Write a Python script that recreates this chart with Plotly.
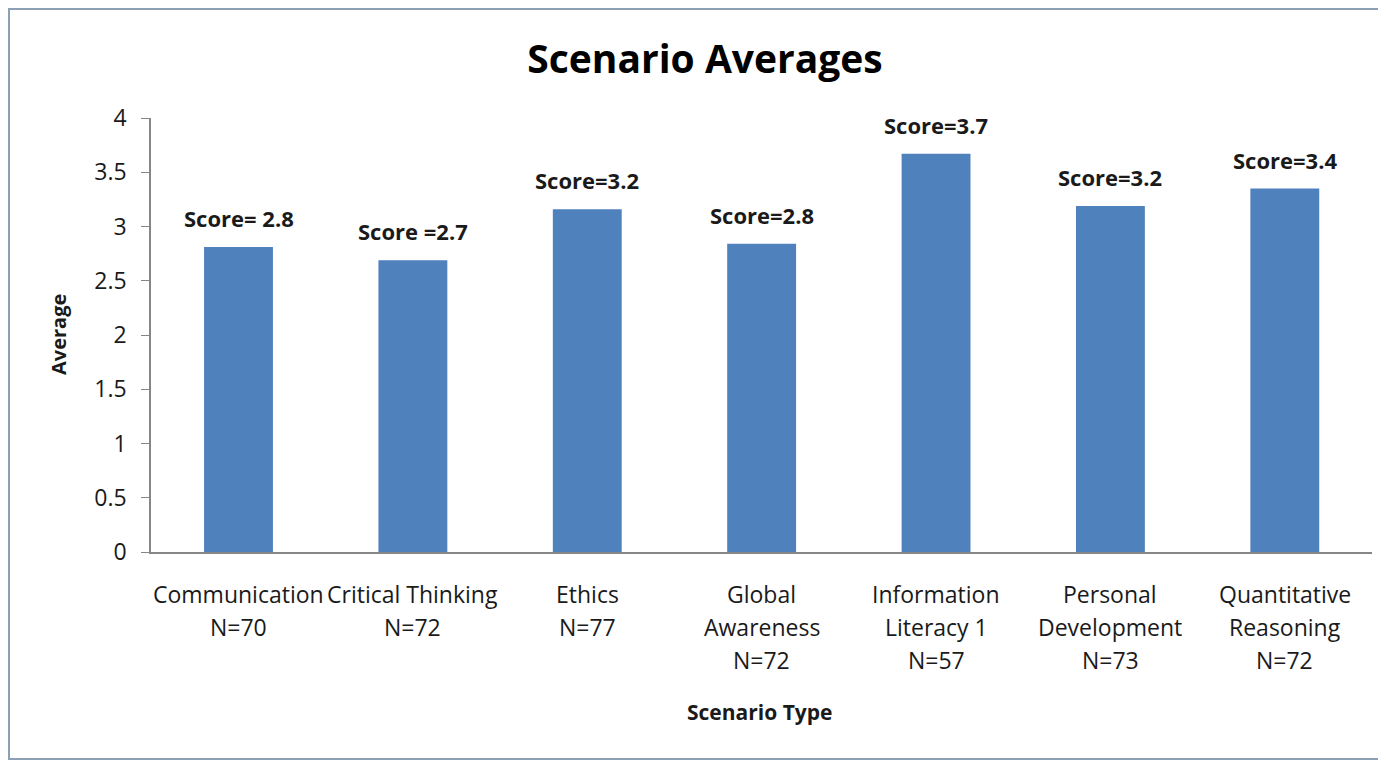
import plotly.graph_objects as go

categories = ["Communication", "Critical Thinking", "Ethics", "Global Awareness",
              "Information Literacy 1", "Personal Development", "Quantitative Reasoning"]
label_lines = [["Communication", "N=70"], ["Critical Thinking", "N=72"], ["Ethics", "N=77"],
               ["Global", "Awareness", "N=72"], ["Information", "Literacy 1", "N=57"],
               ["Personal", "Development", "N=73"], ["Quantitative", "Reasoning", "N=72"]]
values = [2.81, 2.69, 3.16, 2.84, 3.67, 3.19, 3.35]
score_labels = ["Score= 2.8", "Score =2.7", "Score=3.2", "Score=2.8", "Score=3.7", "Score=3.2", "Score=3.4"]
y_ticks = [0, 0.5, 1, 1.5, 2, 2.5, 3, 3.5, 4]
y_tick_text = ["0", "0.5", "1", "1.5", "2", "2.5", "3", "3.5", "4"]

FONT = "'Open Sans', Lato, sans-serif"
TXT = "#1a1a1a"

# figure is drawn inside an 8px body margin; coordinates below are relative to the figure
W, H = 1378, 755
L, R, T, B = 143, 14, 110, 211
PW, PH = W - L - R, H - T - B


def px_to_paper_x(px):
    return (px - L) / PW


def px_to_paper_y(py):
    return (H - B - py) / PH


fig = go.Figure(go.Bar(x=categories, y=values, marker_color="#4F81BD",
                       marker_line_width=0, hoverinfo="skip"))

annotations = []
for c, v, s in zip(categories, values, score_labels):
    annotations.append(dict(x=c, y=v, xref="x", yref="y", text=s, showarrow=False,
                            yanchor="bottom", yshift=12,
                            font=dict(family=FONT, size=22, color=TXT, weight="bold")))
for c, lines in zip(categories, label_lines):
    for i, ln in enumerate(lines):
        annotations.append(dict(x=c, y=0, xref="x", yref="y", text=ln, showarrow=False,
                                yanchor="middle", yshift=-(42 + 33 * i),
                                font=dict(family=FONT, size=23, color=TXT)))
annotations.append(dict(x=px_to_paper_x(751), y=px_to_paper_y(704), xref="paper", yref="paper",
                        text="Scenario Type", showarrow=False, xanchor="center", yanchor="middle",
                        font=dict(family=FONT, size=21, color=TXT, weight="bold")))
annotations.append(dict(x=px_to_paper_x(50), y=px_to_paper_y(327), xref="paper", yref="paper",
                        text="Average", showarrow=False, xanchor="center", yanchor="middle",
                        textangle=-90,
                        font=dict(family=FONT, size=20, color=TXT, weight="bold")))

fig.update_layout(
    width=W, height=H,
    paper_bgcolor="white", plot_bgcolor="white",
    margin=dict(l=L, r=R, t=T, b=B),
    bargap=0.605,
    showlegend=False,
    title=dict(text="Scenario Averages", x=(697 - 8 + 8) / W, xanchor="center",
               y=1 - 51 / H, yanchor="middle",
               font=dict(family=FONT, size=39, color="black", weight="bold")),
    xaxis=dict(showticklabels=False, ticks="", showline=True, linecolor="#868686",
               linewidth=1.5, showgrid=False, zeroline=False),
    yaxis=dict(range=[0, 4], tickvals=y_ticks, ticktext=y_tick_text, ticks="outside",
               ticklen=8, tickcolor="#868686", showline=True, linecolor="#868686",
               linewidth=1.5, showgrid=False, zeroline=False, ticklabelstandoff=10,
               tickfont=dict(family=FONT, size=23, color=TXT)),
    annotations=annotations,
    shapes=[dict(type="rect", xref="paper", yref="paper",
                 x0=px_to_paper_x(1), x1=px_to_paper_x(1376),
                 y0=px_to_paper_y(751), y1=px_to_paper_y(1),
                 line=dict(color="#8CA0B4", width=2), fillcolor="rgba(0,0,0,0)", layer="below")],
)
fig.write_html("out.html")
